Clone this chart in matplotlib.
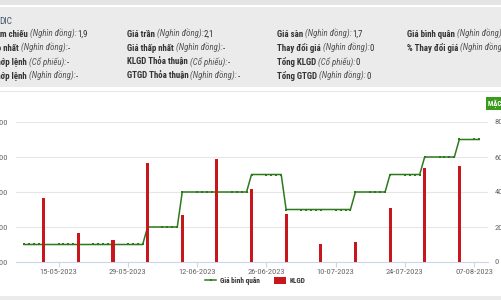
import matplotlib
matplotlib.use('Agg')
import matplotlib.pyplot as plt
import matplotlib.dates as mdates
from matplotlib.patches import Rectangle, Patch
from matplotlib.lines import Line2D
import pandas as pd

# condensed faces, first installed one wins per glyph
plt.rcParams['font.family'] = ['Roboto Condensed', 'Fira Sans Condensed',
                               'Barlow Semi Condensed', 'DejaVu Sans']

# ---- data ----
trade_days = pd.bdate_range('2023-05-08', '2023-08-08')
avg_price = [
    1300, 1300, 1300, 1300, 1300,   # 08-05 .. 12-05
    1300, 1300, 1300, 1300, 1300,   # 15-05 .. 19-05
    1300, 1300, 1300, 1300, 1300,   # 22-05 .. 26-05
    1300, 1300, 1300, 1300, 1400,   # 29-05 .. 02-06
    1400, 1400, 1400, 1400, 1600,   # 05-06 .. 09-06
    1600, 1600, 1600, 1600, 1600,   # 12-06 .. 16-06
    1600, 1600, 1600, 1600, 1700,   # 19-06 .. 23-06
    1700, 1700, 1700, 1700, 1500,   # 26-06 .. 30-06
    1500, 1500, 1500, 1500, 1500,   # 03-07 .. 07-07
    1500, 1500, 1500, 1500, 1600,   # 10-07 .. 14-07
    1600, 1600, 1600, 1600, 1700,   # 17-07 .. 21-07
    1700, 1700, 1700, 1700, 1800,   # 24-07 .. 28-07
    1800, 1800, 1800, 1800, 1900,   # 31-07 .. 04-08
    1900, 1900,                     # 07-08 .. 08-08
]
vol_dates = ['2023-05-12', '2023-05-19', '2023-05-26', '2023-06-02', '2023-06-09',
             '2023-06-16', '2023-06-23', '2023-06-30', '2023-07-07', '2023-07-14',
             '2023-07-21', '2023-07-28', '2023-08-04']
vol_values = [366, 166, 126, 566, 269, 588, 417, 274, 103, 114, 309, 537, 549]
tick_dates = ['2023-05-15', '2023-05-29', '2023-06-12', '2023-06-26',
              '2023-07-10', '2023-07-24', '2023-08-07']
price_ticks = [1200, 1400, 1600, 1800, 2000]
vol_ticks = [0, 200, 400, 600, 800]

title_code = 'DIC'
info_cols = [
    (['Giá tham chiếu', 'Giá cao nhất', 'KLGD khớp lệnh', 'GTGD khớp lệnh'],
     ['(Nghìn đồng):', '(Nghìn đồng):', '(Cổ phiếu):', '(Nghìn đồng):'],
     ['1,9', '-', '-', '-']),
    (['Giá trần', 'Giá thấp nhất', 'KLGD Thỏa thuận', 'GTGD Thỏa thuận'],
     ['(Nghìn đồng):', '(Nghìn đồng):', '(Cổ phiếu):', '(Nghìn đồng):'],
     ['2,1', '-', '-', '-']),
    (['Giá sàn', 'Thay đổi giá', 'Tổng KLGD', 'Tổng GTGD'],
     ['(Nghìn đồng):', '(Nghìn đồng):', '(Cổ phiếu):', '(Nghìn đồng):'],
     ['1,7', '0', '0', '0']),
    (['Giá bình quân', '% Thay đổi giá'],
     ['(Nghìn đồng):', '(Nghìn đồng):'],
     ['-', '0']),
]

GREEN = '#2d7a1e'
RED = '#c8161d'
GRID = '#e6e6e6'
AXIS = '#ccd6eb'
TXT = '#666666'

W, H = 501, 300
fig = plt.figure(figsize=(W / 100, H / 100), dpi=100)
fig.patch.set_facecolor('white')

# background layer in pixel coordinates
bg = fig.add_axes([0, 0, 1, 1], zorder=0)
bg.set_xlim(0, W)
bg.set_ylim(H, 0)
bg.axis('off')
bg.add_patch(Rectangle((0, 0), W, 5, color='#e4e4e4', lw=0))
bg.add_patch(Rectangle((0, 7), W, 80, color='#ebebeb', lw=0))
bg.add_patch(Rectangle((0, 296), W, 4, color='#ebebeb', lw=0))
bg.plot([0, W], [90.5, 90.5], color='#e8e8e8', lw=0.8)

# ---- info panel ----
fs = 6.4
bg.text(-1, 24, title_code, ha='left', va='baseline', fontsize=fs + 0.3,
        color='#44546a')


def info_line(x, y, label, unit, value, ha='left'):
    # y is the baseline; the pieces are chained left to right
    t1 = bg.text(x, y, label, ha=ha, va='baseline', fontsize=fs,
                 fontweight='bold', color='#333333')
    t2 = bg.annotate(unit, xy=(1, 0), xycoords=t1, xytext=(1.3, 0),
                     textcoords='offset points', ha='left', va='bottom',
                     fontsize=fs, style='italic', color='#555555')
    bg.annotate(value, xy=(1, 0), xycoords=t2, xytext=(0.5, 0),
                textcoords='offset points', ha='left', va='bottom',
                fontsize=fs, color='#333333')


row_y = [37, 51, 65, 79]
col1_ends = [28, 19, 27, 27]
col_x = [None, 127, 277, 407]
for ci, (labels, units, values) in enumerate(info_cols):
    for ri in range(len(labels)):
        if ci == 0:
            info_line(col1_ends[ri], row_y[ri], labels[ri], units[ri],
                      values[ri], ha='right')
        else:
            info_line(col_x[ci], row_y[ri], labels[ri], units[ri], values[ri])

# button at top right
bg.text(488.5, 103.5, 'MẶC ĐỊNH', ha='left', va='center', fontsize=5,
        fontweight='bold', color='white',
        bbox=dict(boxstyle='square,pad=0.35', fc='#3a9a1e', ec='none'))

# ---- chart ----
ax = fig.add_axes([16 / W, 38 / H, 472 / W, 140 / H], zorder=1)
ax.patch.set_visible(False)
ax2 = ax.twinx()

x_price = mdates.date2num(trade_days)
ax.plot(x_price, avg_price, color=GREEN, lw=1.1, marker='s', ms=1.7,
        mew=0, zorder=3)

x_vol = mdates.date2num(pd.to_datetime(vol_dates))
ax2.bar(x_vol, vol_values, width=0.62, color=RED, zorder=3)

x0 = mdates.date2num(pd.Timestamp('2023-05-15'))
x1 = mdates.date2num(pd.Timestamp('2023-08-07'))
ax.set_xlim(x0 - 8.6, x1 + 2.8)

ax.set_ylim(1200, 2000)
ax.set_yticks(price_ticks)
ax.set_yticklabels([f'{v:,}' for v in price_ticks])
ax2.set_ylim(0, 800)
ax2.set_yticks(vol_ticks)
ax2.set_yticklabels([str(v) for v in vol_ticks])

ax.grid(axis='y', color=GRID, lw=0.8)
ax.set_axisbelow(True)

ax.set_xticks(mdates.date2num(pd.to_datetime(tick_dates)))
ax.xaxis.set_major_formatter(mdates.DateFormatter('%d-%m-%Y'))

for s in ['top', 'left', 'right']:
    ax.spines[s].set_visible(False)
for s in ax2.spines.values():
    s.set_visible(False)
ax.spines['bottom'].set_color(AXIS)
ax.spines['bottom'].set_linewidth(0.8)

ax.tick_params(axis='x', colors=AXIS, length=3.6, width=0.8, pad=1.2,
               labelsize=6.1, labelcolor=TXT)
ax.tick_params(axis='y', length=0, pad=5.8, labelsize=6.1, labelcolor=TXT)
ax2.tick_params(axis='y', length=0, pad=5.0, labelsize=6.1, labelcolor=TXT)

# legend
handles = [Line2D([0], [0], color=GREEN, lw=1.1, marker='s', ms=1.7, mew=0),
           Patch(facecolor=RED, edgecolor='none')]
fig.legend(handles, ['Giá bình quân', 'KLGD'], loc='center',
           bbox_to_anchor=(255 / W, 1 - 281 / H), ncol=2, frameon=False,
           prop={'size': 5.2, 'weight': 'bold'}, handlelength=1.6,
           handleheight=1.1, handletextpad=0.5, columnspacing=2.0,
           labelcolor='#333333')

fig.savefig('out.png', dpi=100)
